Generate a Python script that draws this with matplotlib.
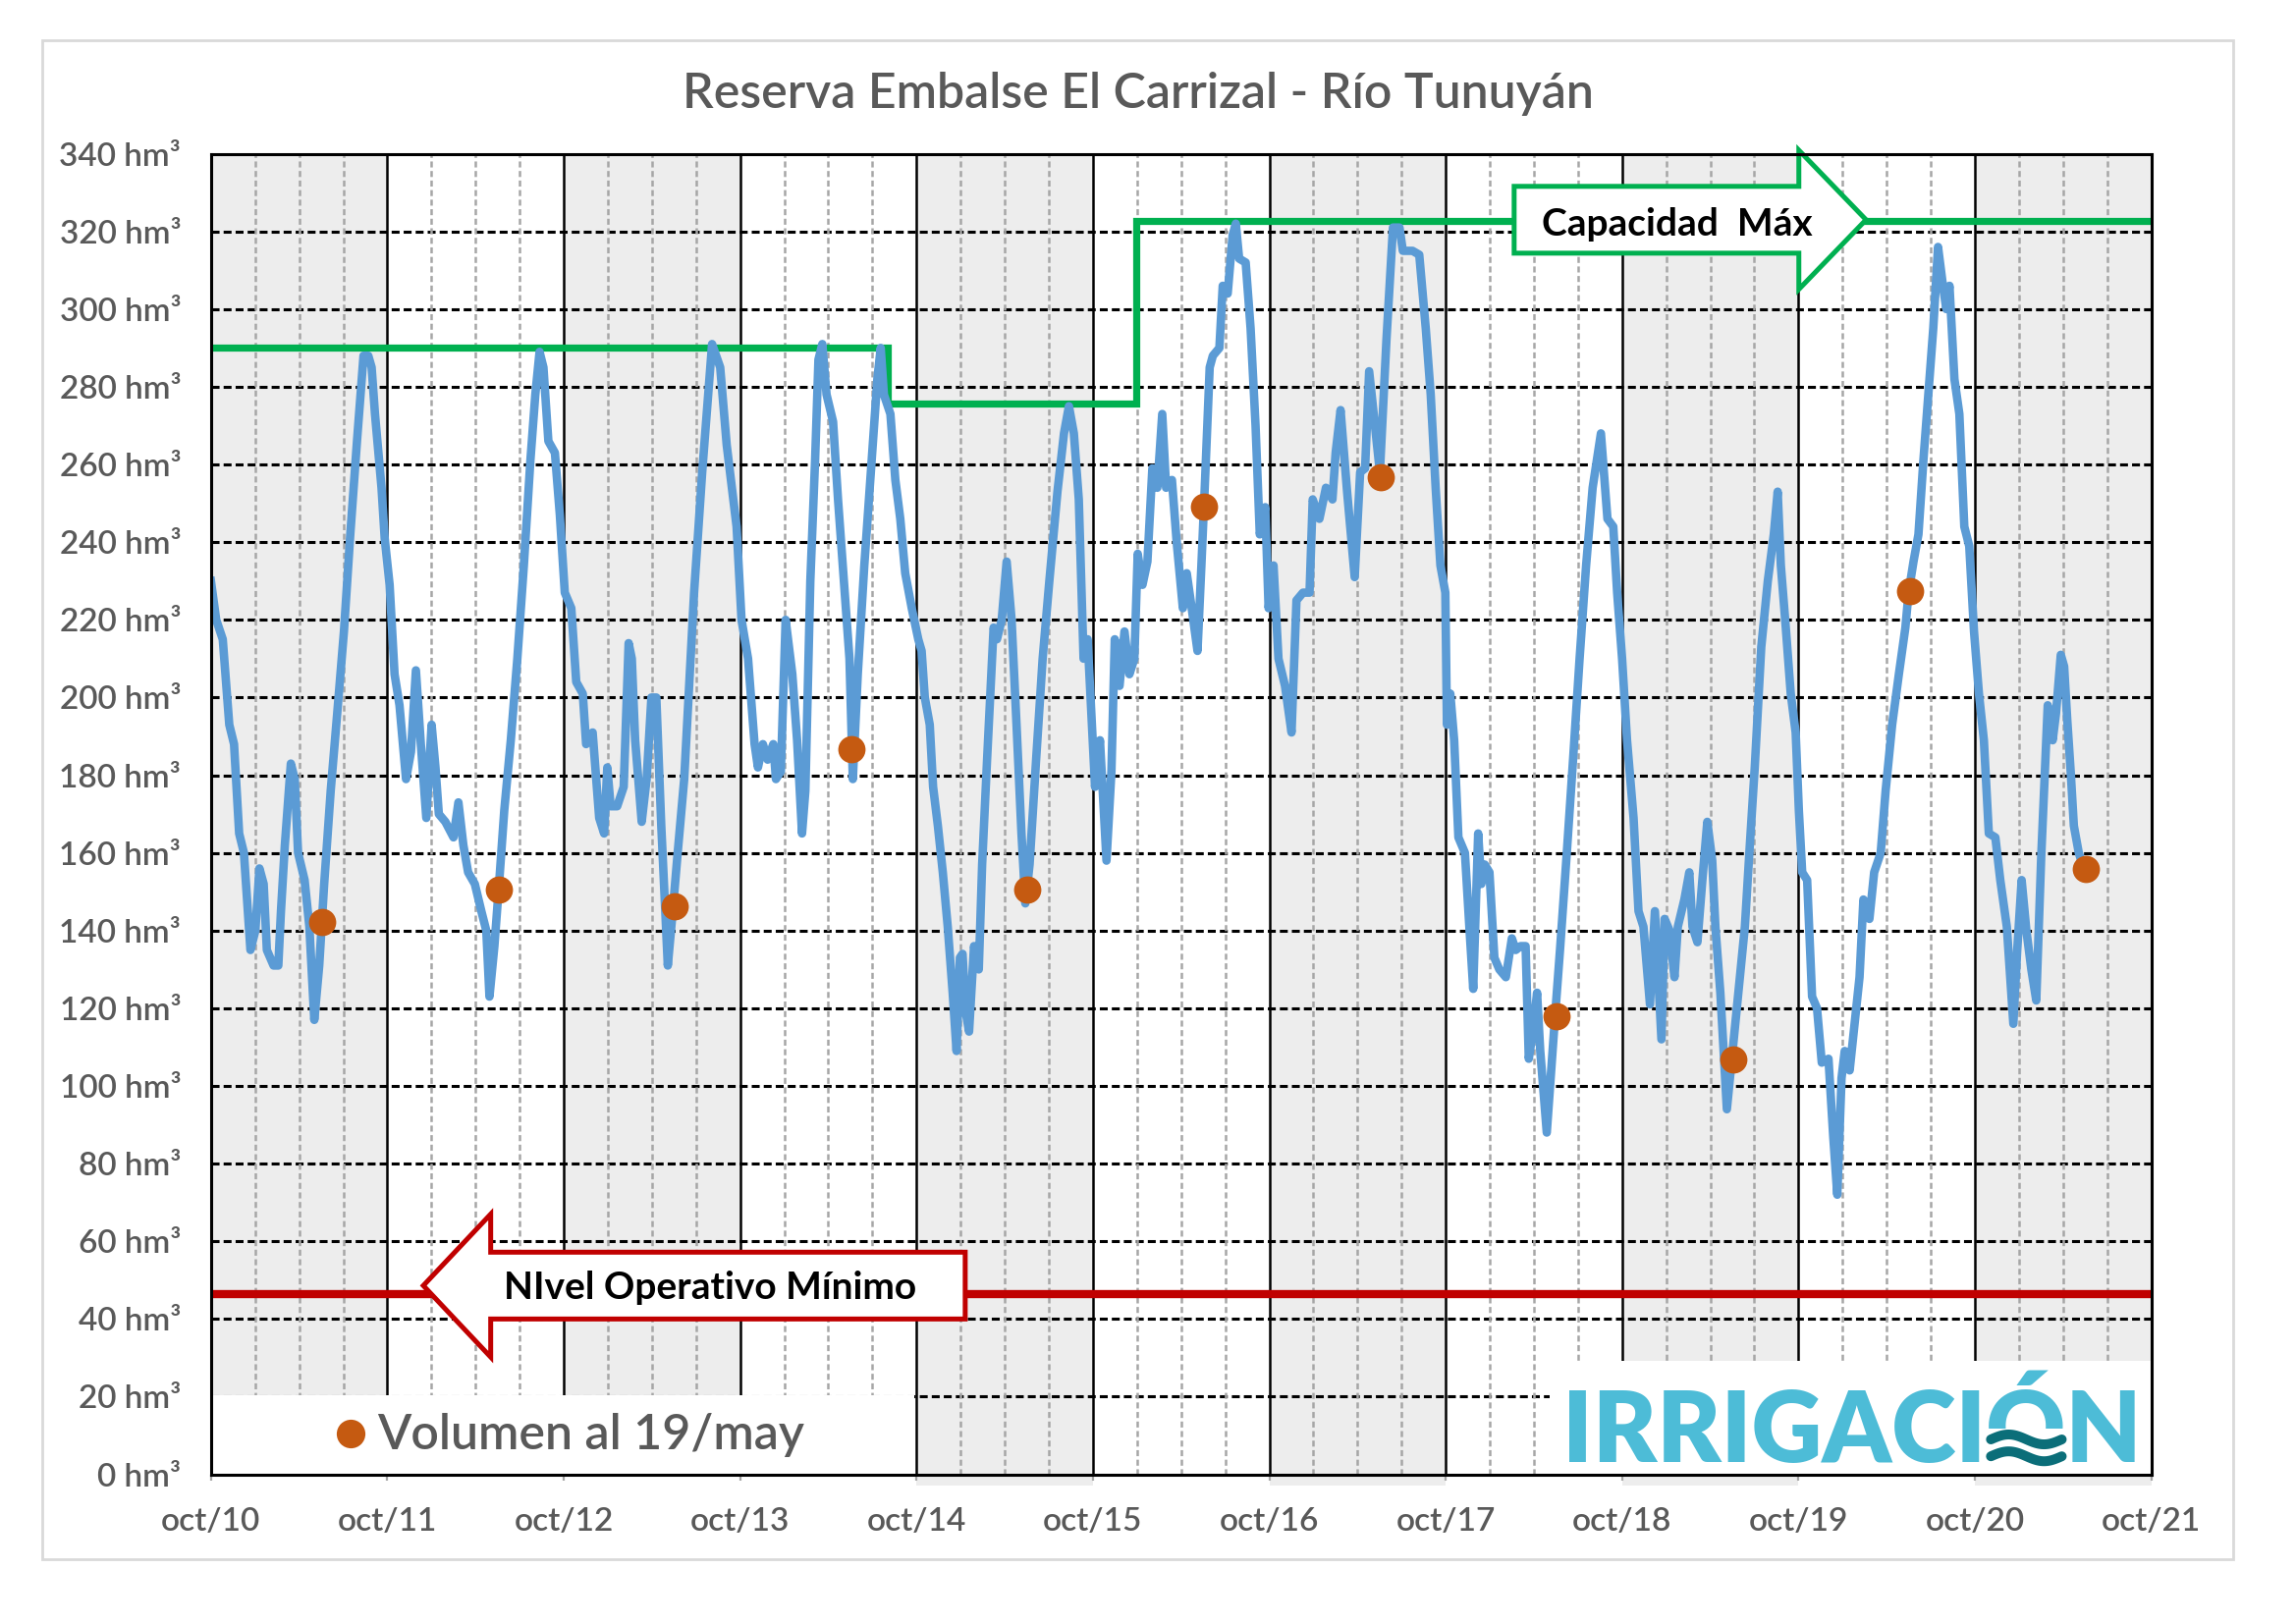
import datetime as dt
import numpy as np
import matplotlib
matplotlib.use('Agg')
import matplotlib.pyplot as plt
from matplotlib.patches import Rectangle, Polygon

plt.rcParams['font.family'] = ['Lato', 'DejaVu Sans']
plt.rcParams['lines.scale_dashes'] = False

# --- data (x = years since oct/2010) ---
t_years = [
    0.00, 0.03, 0.067, 0.104, 0.131, 0.16, 0.187, 0.224, 0.252, 0.275, 0.299, 0.317, 0.355, 0.382,
    0.397, 0.419, 0.453, 0.475, 0.494, 0.531, 0.558, 0.586, 0.614, 0.642, 0.679, 0.716, 0.754, 0.79,
    0.828, 0.865, 0.892, 0.911, 0.93, 0.967, 0.985, 1.013, 1.041, 1.069, 1.106, 1.134, 1.162, 1.19,
    1.221, 1.251, 1.273, 1.292, 1.329, 1.375, 1.403, 1.431, 1.458, 1.496, 1.533, 1.561, 1.579, 1.607,
    1.635, 1.663, 1.70, 1.737, 1.774, 1.811, 1.839, 1.863, 1.885, 1.913, 1.95, 1.978, 2.006, 2.043,
    2.071, 2.108, 2.127, 2.164, 2.201, 2.229, 2.247, 2.266, 2.303, 2.34, 2.368, 2.386, 2.405, 2.442,
    2.47, 2.497, 2.525, 2.553, 2.59, 2.618, 2.646, 2.683, 2.739, 2.785, 2.841, 2.887, 2.924, 2.98,
    3.008, 3.045, 3.082, 3.101, 3.129, 3.156, 3.188, 3.203, 3.231, 3.258, 3.296, 3.323, 3.351, 3.37,
    3.398, 3.425, 3.444, 3.466, 3.49, 3.527, 3.555, 3.593, 3.62, 3.639, 3.667, 3.704, 3.741, 3.778,
    3.797, 3.815, 3.852, 3.88, 3.908, 3.936, 3.973, 4.01, 4.029, 4.047, 4.075, 4.094, 4.121, 4.149,
    4.177, 4.205, 4.227, 4.246, 4.261, 4.279, 4.298, 4.326, 4.353, 4.372, 4.40, 4.437, 4.456, 4.483,
    4.511, 4.539, 4.567, 4.595, 4.617, 4.641, 4.678, 4.715, 4.753, 4.799, 4.836, 4.864, 4.892, 4.92,
    4.947, 4.97, 4.994, 5.012, 5.04, 5.077, 5.105, 5.124, 5.151, 5.179, 5.207, 5.235, 5.254, 5.281,
    5.309, 5.337, 5.365, 5.393, 5.415, 5.448, 5.475, 5.51, 5.532, 5.56, 5.593, 5.615, 5.634, 5.662,
    5.68, 5.717, 5.736, 5.764, 5.792, 5.81, 5.829, 5.866, 5.894, 5.922, 5.946, 5.977, 5.996, 6.024,
    6.052, 6.089, 6.126, 6.154, 6.191, 6.228, 6.246, 6.284, 6.321, 6.358, 6.376, 6.404, 6.441, 6.484,
    6.515, 6.543, 6.566, 6.599, 6.627, 6.664, 6.701, 6.738, 6.757, 6.812, 6.85, 6.887, 6.915, 6.943,
    6.97, 6.998, 7.007, 7.026, 7.048, 7.072, 7.109, 7.134, 7.156, 7.184, 7.202, 7.221, 7.248, 7.276,
    7.304, 7.341, 7.375, 7.397, 7.425, 7.453, 7.471, 7.494, 7.518, 7.536, 7.573, 7.598, 7.62, 7.648,
    7.685, 7.722, 7.759, 7.796, 7.833, 7.88, 7.917, 7.95, 7.972, 8.0, 8.028, 8.065, 8.093, 8.121,
    8.158, 8.186, 8.223, 8.241, 8.269, 8.297, 8.316, 8.353, 8.381, 8.399, 8.427, 8.455, 8.483, 8.511,
    8.529, 8.557, 8.594, 8.622, 8.659, 8.696, 8.724, 8.752, 8.789, 8.826, 8.86, 8.882, 8.90, 8.928,
    8.956, 8.984, 9.002, 9.021, 9.049, 9.077, 9.105, 9.132, 9.17, 9.197, 9.22, 9.244, 9.262, 9.29,
    9.318, 9.346, 9.368, 9.402, 9.429, 9.466, 9.494, 9.531, 9.569, 9.606, 9.624, 9.652, 9.68, 9.708,
    9.736, 9.764, 9.791, 9.819, 9.838, 9.856, 9.884, 9.912, 9.94, 9.968, 9.995, 10.023, 10.051, 10.079,
    10.116, 10.144, 10.181, 10.218, 10.24, 10.265, 10.292, 10.32, 10.348, 10.376, 10.413, 10.441,
    10.46, 10.487, 10.506, 10.524, 10.543, 10.561, 10.589, 10.617,
]
volume_hm3 = [
    230, 220, 215, 193, 188, 165, 160, 135, 140, 156, 152, 135, 131, 131,
    145, 162, 183, 179, 160, 153, 141, 117, 131, 152, 176, 196, 217, 242,
    266, 288, 288, 285, 273, 254, 241, 229, 206, 198, 179, 186, 207, 188,
    169, 193, 182, 170, 168, 164, 173, 162, 155, 152, 145, 140, 123, 136,
    153, 171, 189, 210, 234, 261, 278, 289, 285, 266, 263, 247, 227, 223,
    204, 201, 188, 191, 169, 165, 182, 172, 172, 177, 214, 210, 189, 168,
    179, 200, 200, 167, 131, 145, 160, 179, 227, 258, 291, 285, 265, 244,
    220, 210, 188, 182, 188, 184, 188, 179, 181, 220, 206, 189, 165, 176,
    230, 261, 287, 291, 278, 271, 251, 227, 210, 179, 206, 234, 258, 282,
    290, 278, 273, 256, 246, 232, 223, 215, 212, 200, 193, 177, 167, 155,
    141, 124, 109, 133, 134, 119, 114, 136, 130, 157, 184, 218, 215, 220,
    235, 220, 193, 165, 147, 157, 184, 210, 230, 253, 268, 275, 268, 251,
    210, 215, 193, 177, 189, 158, 181, 215, 203, 217, 206, 210, 237, 229,
    235, 259, 254, 273, 254, 256, 240, 223, 232, 223, 212, 234, 254, 285,
    288, 290, 306, 304, 319, 322, 313, 312, 295, 270, 242, 249, 223, 234,
    210, 203, 191, 225, 227, 227, 251, 246, 254, 251, 263, 274, 253, 231,
    258, 259, 284, 270, 258, 292, 321, 321, 315, 315, 314, 295, 278, 254,
    234, 227, 193, 201, 189, 164, 160, 141, 125, 165, 152, 157, 155, 133,
    130, 128, 138, 135, 136, 136, 107, 114, 124, 109, 88, 104, 118, 135,
    159, 184, 210, 234, 254, 268, 246, 244, 227, 210, 189, 169, 145, 141,
    121, 145, 112, 143, 140, 128, 141, 148, 155, 141, 137, 153, 168, 158,
    141, 124, 94, 107, 124, 141, 162, 182, 213, 230, 242, 253, 234, 218,
    201, 191, 171, 155, 153, 123, 120, 106, 107, 87, 72, 102, 109, 104,
    116, 128, 148, 143, 155, 160, 176, 193, 206, 218, 227, 235, 242, 261,
    278, 295, 316, 306, 300, 306, 282, 273, 244, 239, 217, 201, 189, 165,
    164, 153, 141, 116, 135, 153, 140, 130, 122, 159, 198, 189,
    196, 211, 208, 194, 181, 167, 160, 156,
]

# volume on 19/may of each year
may19_years = [2011, 2012, 2013, 2014, 2015, 2016, 2017, 2018, 2019, 2020, 2021]
may19_volume = [142.3, 150.5, 146.2, 186.7, 150.5, 249.1, 256.8, 118.0, 106.9, 227.4, 155.9]

# maximum capacity (step changes) and minimum operating level
cap_edges = [0, 3.837, 5.244, 11]
cap_values = [290, 275.6, 322.6]
nivel_minimo = 46.5

year_labels = ['oct/10', 'oct/11', 'oct/12', 'oct/13', 'oct/14', 'oct/15',
               'oct/16', 'oct/17', 'oct/18', 'oct/19', 'oct/20', 'oct/21']
y_ticks = list(range(0, 341, 20))

START = dt.date(2010, 10, 1)
dot_t = [(dt.date(y, 5, 19) - START).days / 365.25 for y in may19_years]

GRAY_TXT = '#595959'
BLUE = '#5B9BD5'
ORANGE = '#C55A11'
GREEN = '#00B050'
RED = '#C00000'
LOGO = '#4DBCD7'
LOGO_DARK = '#0B6E79'

fig = plt.figure(figsize=(11.69, 8.27), dpi=200)
fig.patches.append(Rectangle((0.0182, 0.0399), 0.9544, 0.9356, transform=fig.transFigure,
                             fill=False, edgecolor='#D9D9D9', lw=1.0))

ax = fig.add_axes([0.09187, 0.09214, 0.8451, 0.8132])
ax.set_xlim(0, 11)
ax.set_ylim(0, 340)

# alternating gray year bands
for k in range(0, 11, 2):
    bottom = 0 if k < 4 else -3
    ax.add_patch(Rectangle((k, bottom), 1, 340 - bottom, facecolor='#EDEDED',
                           edgecolor='none', zorder=0, clip_on=False))

# grid
for v in y_ticks[1:-1]:
    ax.axhline(v, color='black', lw=1.1, dashes=(2.9, 1.5), zorder=1)
for k in range(11):
    for q in (0.25, 0.5, 0.75):
        ax.axvline(k + q, color='#A6A6A6', lw=0.9, dashes=(2.2, 1.3), zorder=1)
for k in range(1, 11):
    ax.axvline(k, color='black', lw=0.9, zorder=2)

# white boxes for legend and logo
ax.add_patch(Rectangle((0, 0), 3.99, 20.3, facecolor='white', edgecolor='none', zorder=3))
ax.add_patch(Rectangle((7.59, 0), 11 - 7.59, 29.2, facecolor='white', edgecolor='none', zorder=3))

# reference levels
ax.stairs(cap_values, cap_edges, baseline=None, color=GREEN, lw=2.6, zorder=4)
ax.axhline(nivel_minimo, color=RED, lw=3.0, zorder=4)

# series
ax.plot(t_years, volume_hm3, color=BLUE, lw=3.1, solid_joinstyle='round', zorder=5)
ax.plot(dot_t, may19_volume, 'o', color=ORANGE, ms=10, mec='none', zorder=6)


def block_arrow(x_tail, x_base, x_tip, yc, body, head, color):
    pts = [(x_tail, yc - body), (x_base, yc - body), (x_base, yc - head), (x_tip, yc),
           (x_base, yc + head), (x_base, yc + body), (x_tail, yc + body)]
    ax.add_patch(Polygon(pts, closed=True, facecolor='white', edgecolor=color, lw=1.8,
                         joinstyle='miter', zorder=7, clip_on=False))


block_arrow(7.388, 9.002, 9.383, cap_values[-1] + 0.4, 8.6, 17.9, GREEN)
ax.text(8.31, 319, 'Capacidad  Máx', ha='center', va='baseline', fontsize=14,
        fontweight='bold', color='black', zorder=8)

block_arrow(4.276, 1.586, 1.204, nivel_minimo + 2.1, 8.6, 18.4, RED)
ax.text(2.83, 45.2, 'NIvel Operativo Mínimo', ha='center', va='baseline', fontsize=14,
        fontweight='bold', color='black', zorder=8)

# legend
ax.plot([0.793], [10.5], 'o', color=ORANGE, ms=10.5, mec='none', zorder=8)
ax.text(0.94, 6.5, 'Volumen al 19/may', ha='left', va='baseline', fontsize=18,
        fontweight='semibold', color=GRAY_TXT, zorder=8)

# axes styling
for s in ax.spines.values():
    s.set_color('black')
    s.set_linewidth(1.1)
    s.set_zorder(9)
ax.set_xticks(range(12))
ax.set_xticklabels(year_labels)
ax.set_yticks(y_ticks)
ax.set_yticklabels([f'{v} hm³' for v in y_ticks])
ax.tick_params(axis='x', length=2, color='#A6A6A6', pad=10, labelsize=12, labelcolor=GRAY_TXT)
ax.tick_params(axis='y', length=0, pad=11, labelsize=12, labelcolor=GRAY_TXT)
for lab in ax.get_xticklabels() + ax.get_yticklabels():
    lab.set_fontweight('semibold')

fig.text(0.4957, 1 - 110 / 1654, 'Reserva Embalse El Carrizal - Río Tunuyán', ha='center',
         va='baseline', fontsize=18, fontweight='semibold', color=GRAY_TXT)

# logo: fit text to its box, then replace lower half of the Ó with waves
logo_x0, logo_x1, logo_base = 7.66, 10.94, 3.2
logo_kw = dict(ha='left', va='baseline', fontweight='heavy', color=LOGO, zorder=8)
logo = ax.text(logo_x0, logo_base, 'IRRIGACIÓN', fontsize=38, **logo_kw)
fig.canvas.draw()
renderer = fig.canvas.get_renderer()
px0 = ax.transData.transform((logo_x0, 0))[0]
px1 = ax.transData.transform((logo_x1, 0))[0]
logo.set_fontsize(38 * (px1 - px0) / logo.get_window_extent(renderer).width)


def prefix_width(s):
    tmp = ax.text(logo_x0, logo_base, s, fontsize=logo.get_fontsize(), **logo_kw)
    w = tmp.get_window_extent(renderer).width
    tmp.remove()
    return w


wa = prefix_width('IRRIGACI')
wb = prefix_width('IRRIGACIÓ')
inv = ax.transData.inverted()
oa = inv.transform((px0 + wa, 0))[0]
ob = inv.transform((px0 + wb, 0))[0]
px_per_unit = ax.get_window_extent(renderer).height / 340
cap = logo.get_fontsize() * 0.72 * fig.dpi / 72 / px_per_unit
ax.add_patch(Rectangle((oa + 0.01, logo_base - 2), ob - oa, 2 + 0.47 * cap,
                       facecolor='white', edgecolor='none', zorder=8.5))
u = np.linspace(0, 1, 60)
wx = oa + 0.03 + u * (ob - oa - 0.05)
for frac in (0.32, 0.08):
    wy = logo_base + frac * cap + 0.07 * cap * np.sin(2 * np.pi * u)
    ax.plot(wx, wy, color=LOGO_DARK, lw=3.6, solid_capstyle='round', zorder=9)

fig.savefig('out.png', dpi=200)
